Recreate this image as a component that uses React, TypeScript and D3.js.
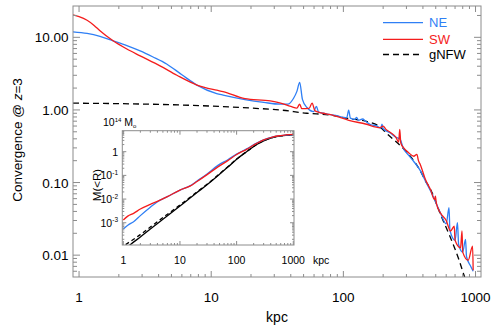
import React, { useEffect, useRef } from "react";
import * as d3 from "d3";

// main panel: convergence profiles (kpc vs kappa)
const neRadius = [0.9, 1.15, 1.44, 1.81, 2.3, 2.9, 3.6, 4.6, 6, 7.8, 11, 12.3, 18, 25, 33, 38, 42, 44.5, 46.7, 49, 53, 59.5, 62.5, 65, 70.8, 80, 90, 100, 106, 109.7, 113, 122, 126, 130, 140, 147, 160, 180, 192, 196, 200, 227, 250, 267, 286, 310, 341, 383, 418, 456, 497, 543, 600, 630, 640, 700, 730, 745, 800, 840, 855, 917, 960];
const neKappa = [11.9, 11.3, 10.3, 8.95, 7.7, 6.5, 5.4, 4.3, 3.05, 2.2, 1.68, 1.6, 1.39, 1.27, 1.2, 1.2, 1.45, 1.8, 2.4, 1.4, 1.08, 0.95, 1.12, 0.93, 0.9, 0.86, 0.83, 0.79, 0.78, 0.99, 0.77, 0.74, 0.79, 0.72, 0.75, 0.7, 0.63, 0.6, 0.56, 0.635, 0.55, 0.48, 0.42, 0.4, 0.29, 0.24, 0.195, 0.145, 0.105, 0.077, 0.055, 0.038, 0.027, 0.045, 0.022, 0.016, 0.028, 0.014, 0.011, 0.0165, 0.0095, 0.0071, 0.006];

const swRadius = [0.9, 1.0, 1.15, 1.3, 1.44, 1.81, 2.3, 2.9, 4.1, 5.5, 7.8, 11, 12.3, 18, 28, 33, 40, 44.5, 46.7, 48.5, 55, 58, 61, 70, 80, 110, 147, 190, 200, 210, 227, 250, 262, 267, 272, 286, 310, 341, 360, 370, 383, 418, 456, 490, 497, 505, 543, 600, 647, 690, 700, 770, 790, 800, 880, 950, 960];
const swKappa = [20.4, 19.3, 17.2, 14.6, 12.3, 8.95, 6.9, 5.56, 4.05, 3.0, 2.2, 1.87, 1.79, 1.43, 1.33, 1.25, 1.12, 1.06, 1.2, 1.04, 1.05, 1.24, 0.97, 0.9, 0.86, 0.72, 0.64, 0.57, 0.6, 0.54, 0.49, 0.42, 0.36, 0.54, 0.35, 0.3, 0.26, 0.23, 0.245, 0.2, 0.175, 0.11, 0.08, 0.058, 0.065, 0.052, 0.038, 0.03, 0.0215, 0.025, 0.016, 0.0126, 0.0215, 0.011, 0.0085, 0.0133, 0.0062];

const nfwRadius = [0.9, 2, 5, 10, 20, 33, 53, 80, 110, 147, 190, 214, 286, 341, 383, 418, 456, 543, 647, 748, 815, 860];
const nfwKappa = [1.24, 1.22, 1.18, 1.13, 1.06, 1.0, 0.9, 0.85, 0.76, 0.7, 0.58, 0.47, 0.29, 0.2, 0.144, 0.105, 0.081, 0.0364, 0.0173, 0.0087, 0.0054, 0.004];

// inset: enclosed mass in 1e14 Msun
const insetRadius = [1, 1.2, 1.52, 2, 3, 3.9, 6, 10, 15, 20, 29.7, 47.5, 70, 100, 150, 226, 300, 443, 600, 1000];
const insetSwMass = [1.3e-3, 1.9e-3, 2.5e-3, 3.8e-3, 6.0e-3, 7.8e-3, 1.26e-2, 2.4e-2, 3.5e-2, 5.5e-2, 0.105, 0.234, 0.42, 0.76, 1.26, 2.24, 3.16, 4.27, 4.79, 5.37];
const insetNeMass = [5.4e-4, 7.9e-4, 1.1e-3, 2.0e-3, 4.5e-3, 7.4e-3, 1.26e-2, 2.4e-2, 3.6e-2, 5.8e-2, 0.112, 0.27, 0.46, 0.79, 1.32, 2.29, 3.16, 4.27, 4.79, 5.25];
const modelRadius = [1.2, 1.31, 2, 3, 5, 10, 20, 30, 50, 70, 100, 150, 226, 300, 443, 600, 1000];
const modelMass = [9.5e-5, 1.15e-4, 2.5e-4, 5.4e-4, 1.4e-3, 5.1e-3, 1.9e-2, 4.0e-2, 0.112, 0.224, 0.48, 1.0, 2.0, 2.88, 4.07, 4.68, 5.13];
const nfwMassRadius = [1.1, 2, 3, 5, 10, 20, 30, 50, 70, 100, 150, 226, 300, 443, 600, 1000];
const nfwMass = [1.2e-4, 3.16e-4, 6.6e-4, 1.66e-3, 5.6e-3, 2.0e-2, 4.2e-2, 0.117, 0.229, 0.49, 1.0, 2.0, 2.88, 4.07, 4.68, 5.13];

const mainXTicks = [1, 10, 100, 1000];
const mainYTicks = [10, 1, 0.1, 0.01];
const insetXTicks = [1, 10, 100, 1000];
const insetYTicks = [1, 0.1, 0.01, 0.001];

const BLUE = "#2f7ff5";
const RED = "#f41c1c";
const AXIS = "#8c8c8c";
const FONT = "'Liberation Sans', Arial, Helvetica, sans-serif";

const isMajor = (v) => Math.abs(Math.log10(v) - Math.round(Math.log10(v))) < 1e-6;

function frameTicks(g, x, y, majX, minX, majY, minY) {
  const [x0, x1] = x.range();
  const [y0, y1] = y.range(); // y0 bottom, y1 top
  const xt = x.ticks().filter((v) => x(v) > x0 + 0.5 && x(v) < x1 - 0.5);
  const yt = y.ticks().filter((v) => y(v) < y0 - 0.5 && y(v) > y1 + 0.5);
  xt.forEach((v) => {
    const l = isMajor(v) ? majX : minX;
    g.append("line").attr("x1", x(v)).attr("x2", x(v)).attr("y1", y0).attr("y2", y0 - l);
    g.append("line").attr("x1", x(v)).attr("x2", x(v)).attr("y1", y1).attr("y2", y1 + l);
  });
  yt.forEach((v) => {
    const l = isMajor(v) ? majY : minY;
    g.append("line").attr("y1", y(v)).attr("y2", y(v)).attr("x1", x0).attr("x2", x0 + l);
    g.append("line").attr("y1", y(v)).attr("y2", y(v)).attr("x1", x1).attr("x2", x1 - l);
  });
  g.append("rect")
    .attr("x", x0).attr("y", y1)
    .attr("width", x1 - x0).attr("height", y0 - y1)
    .attr("fill", "none");
  g.attr("stroke", AXIS).attr("stroke-width", 1);
}

const App = () => {
  const ref = useRef(null);

  useEffect(() => {
    const width = 491;
    const height = 327;
    d3.select(ref.current).select("svg").remove();

    const svg = d3
      .select(ref.current)
      .append("svg")
      .attr("width", width)
      .attr("height", height)
      .style("position", "absolute")
      .style("left", 0)
      .style("top", 0)
      .style("font-family", FONT);

    svg.append("rect").attr("width", width).attr("height", height).attr("fill", "#fff");

    // ---- main panel
    const x = d3.scaleLog().domain([0.9, 1100]).range([73, 481]);
    const y = d3.scaleLog().domain([0.005, 27]).range([277, 6]);

    svg.append("clipPath").attr("id", "mainclip")
      .append("rect").attr("x", 73).attr("y", 6).attr("width", 408).attr("height", 271);

    const line = d3.line().x((d) => x(d[0])).y((d) => y(d[1])).curve(d3.curveMonotoneX);
    const curves = svg.append("g").attr("clip-path", "url(#mainclip)").attr("fill", "none");

    curves.append("path")
      .attr("d", line(nfwRadius.map((r, i) => [r, nfwKappa[i]])))
      .attr("stroke", "#000").attr("stroke-width", 1.3).attr("stroke-dasharray", "6,4");
    curves.append("path")
      .attr("d", line(neRadius.map((r, i) => [r, neKappa[i]])))
      .attr("stroke", BLUE).attr("stroke-width", 1.3);
    curves.append("path")
      .attr("d", line(swRadius.map((r, i) => [r, swKappa[i]])))
      .attr("stroke", RED).attr("stroke-width", 1.3);

    frameTicks(svg.append("g"), x, y, 6, 3, 7, 4);

    svg.append("g").selectAll("text").data(mainXTicks).enter().append("text")
      .attr("x", (d) => x(d)).attr("y", 301.5)
      .attr("text-anchor", "middle").attr("font-size", 13.5)
      .text((d) => d);
    svg.append("g").selectAll("text").data(mainYTicks).enter().append("text")
      .attr("x", 68.5).attr("y", (d) => y(d) + 5)
      .attr("text-anchor", "end").attr("font-size", 13.5)
      .text((d) => d3.format(".2f")(d));

    svg.append("text").attr("x", 277).attr("y", 322)
      .attr("text-anchor", "middle").attr("font-size", 14).text("kpc");
    const yl = svg.append("text")
      .attr("transform", "translate(22,140) rotate(-90)")
      .attr("text-anchor", "middle").attr("font-size", 13.5);
    yl.append("tspan").text("Convergence @ ");
    yl.append("tspan").attr("font-style", "italic").text("z");
    yl.append("tspan").text("=3");

    // legend
    const legend = [
      { name: "NE", color: BLUE, dash: null },
      { name: "SW", color: RED, dash: null },
      { name: "gNFW", color: "#000", dash: "6,4" },
    ];
    const ly = [22.7, 39.3, 54.5];
    legend.forEach((d, i) => {
      svg.append("line")
        .attr("x1", 383).attr("x2", 423).attr("y1", ly[i]).attr("y2", ly[i])
        .attr("stroke", d.color).attr("stroke-width", 1.3)
        .attr("stroke-dasharray", d.dash);
      svg.append("text")
        .attr("x", 429).attr("y", ly[i] + 4.5).attr("font-size", 13)
        .attr("fill", d.color).text(d.name);
    });

    // ---- inset
    const ix = d3.scaleLog().domain([0.96, 1030]).range([122.3, 294]);
    const iy = d3.scaleLog().domain([1.15e-4, 7.7]).range([245, 130.7]);

    svg.append("rect").attr("x", 122.3).attr("y", 130.7)
      .attr("width", 171.7).attr("height", 114.3).attr("fill", "#fff");
    svg.append("clipPath").attr("id", "insetclip")
      .append("rect").attr("x", 122.3).attr("y", 130.7).attr("width", 171.7).attr("height", 114.3);

    const iline = d3.line().x((d) => ix(d[0])).y((d) => iy(d[1])).curve(d3.curveMonotoneX);
    const ic = svg.append("g").attr("clip-path", "url(#insetclip)").attr("fill", "none");
    ic.append("path")
      .attr("d", iline(modelRadius.map((r, i) => [r, modelMass[i]])))
      .attr("stroke", "#000").attr("stroke-width", 1.3);
    ic.append("path")
      .attr("d", iline(nfwMassRadius.map((r, i) => [r, nfwMass[i]])))
      .attr("stroke", "#000").attr("stroke-width", 1.3).attr("stroke-dasharray", "4,3");
    ic.append("path")
      .attr("d", iline(insetRadius.map((r, i) => [r, insetNeMass[i]])))
      .attr("stroke", BLUE).attr("stroke-width", 1.3);
    ic.append("path")
      .attr("d", iline(insetRadius.map((r, i) => [r, insetSwMass[i]])))
      .attr("stroke", RED).attr("stroke-width", 1.3);

    frameTicks(svg.append("g"), ix, iy, 4, 2, 4, 2);

    svg.append("g").selectAll("text").data(insetXTicks).enter().append("text")
      .attr("x", (d) => ix(d)).attr("y", 264)
      .attr("text-anchor", "middle").attr("font-size", 10.5)
      .text((d) => d);
    svg.append("text").attr("x", 313).attr("y", 264).attr("font-size", 10.5).text("kpc");

    insetYTicks.forEach((v) => {
      const t = svg.append("text")
        .attr("x", 118).attr("y", iy(v) + 4)
        .attr("text-anchor", "end").attr("font-size", 10.5);
      if (v === 1) {
        t.text("1");
      } else {
        t.append("tspan").text("10");
        t.append("tspan").attr("dy", -4.5).attr("font-size", 6.5)
          .text(String(Math.round(Math.log10(v))));
      }
    });

    const it = svg.append("text").attr("x", 103).attr("y", 126).attr("font-size", 10.5);
    it.append("tspan").text("10");
    it.append("tspan").attr("dy", -4.5).attr("font-size", 6).text("14");
    it.append("tspan").attr("dy", 4.5).text(" M");
    it.append("tspan").attr("dy", 2).attr("font-size", 6).text("o");

    svg.append("text")
      .attr("transform", "translate(101,185) rotate(-90)")
      .attr("text-anchor", "middle").attr("font-size", 11.5)
      .text("M(<R)");
  }, []);

  return <div ref={ref}></div>;
};

export default App;
